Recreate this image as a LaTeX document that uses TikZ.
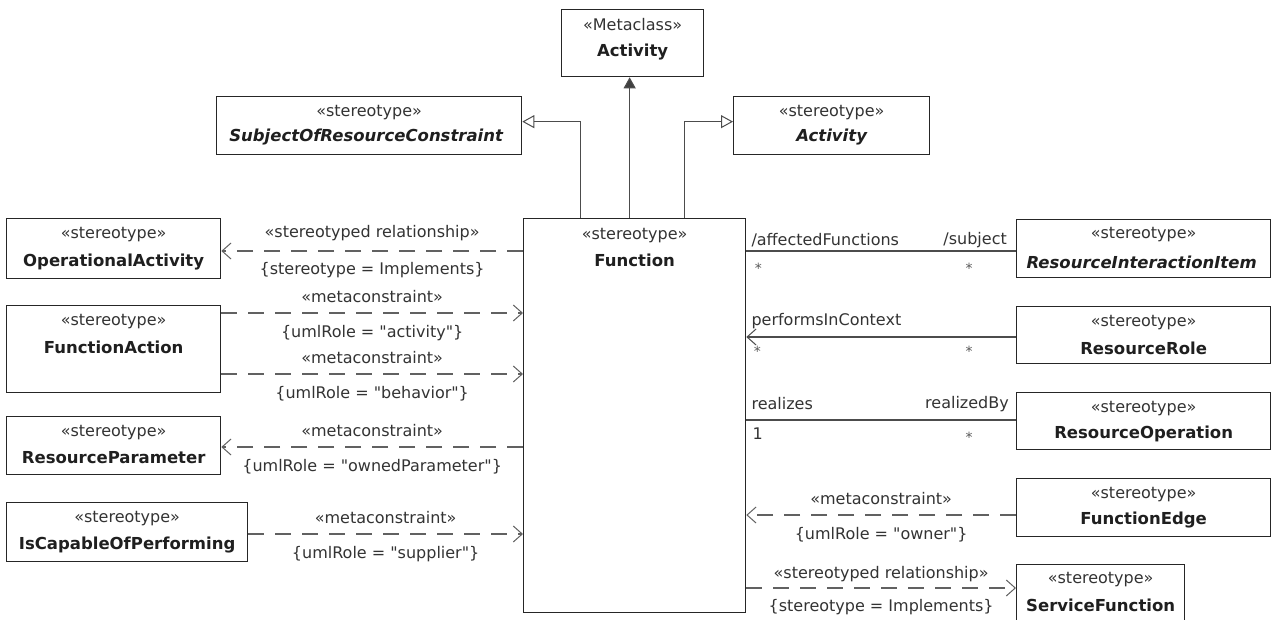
\documentclass[tikz,border=0pt]{standalone}
\usepackage{fontspec}
\setmainfont{DejaVu Sans}
\newfontfamily\qf{DejaVu Sans}
\newcommand{\dq}{{\qf"}}
\usetikzlibrary{arrows.meta,calc}
\begin{document}
\begin{tikzpicture}[x=1pt,y=-1pt,
  box/.style={draw=black!85, line width=1.3pt, anchor=north west, inner sep=0pt, fill=white},
  st/.style={font=\fontsize{16}{18}\selectfont, text=black!80, inner sep=0pt},
  nm/.style={font=\fontsize{16.5}{19}\selectfont\bfseries, text=black!88, inner sep=0pt},
  nmi/.style={font=\fontsize{16.5}{19}\selectfont\bfseries\itshape, text=black!88, inner sep=0pt},
  lbl/.style={font=\fontsize{16}{18}\selectfont, text=black!80, inner sep=0pt},
  ast/.style={font=\fontsize{14}{16}\selectfont, text=black!65, inner sep=0pt},
  dep/.style={draw=black!62, line width=1.1pt, dash pattern=on 16pt off 11pt},
  assoc/.style={draw=black!70, line width=1.1pt},
  barb/.style={-{Straight Barb[length=9pt,width=16pt,line width=1pt]}},
  gen/.style={draw=black!70, line width=1.1pt, -{Triangle[open,length=12pt,width=13pt,fill=white,line width=1pt]}},
  genf/.style={draw=black!70, line width=1.1pt, -{Triangle[length=11pt,width=12pt,fill=black!75]}}
]
\useasboundingbox (0,0) rectangle (1273,620);
\clip (0,0) rectangle (1273,620);
\fill[white] (0,0) rectangle (1273,620);

% boxes
\node[box, minimum width=142pt, minimum height=67pt] (meta) at (561,9) {};
\node[st] at ($(meta.north)+(0,16)$) {«Metaclass»};
\node[nm] at ($(meta.north)+(0,43)$) {Activity};

\node[box, minimum width=305pt, minimum height=58pt] (sorc) at (216,96) {};
\node[st] at ($(sorc.north)+(0,17)$) {«stereotype»};
\node[nmi] at ($(sorc.north)+(-3,41)$) {SubjectOfResourceConstraint};

\node[box, minimum width=196pt, minimum height=58pt] (sact) at (733,96) {};
\node[st] at ($(sact.north)+(0,17)$) {«stereotype»};
\node[nmi] at ($(sact.north)+(0,41)$) {Activity};

\node[box, minimum width=222pt, minimum height=394pt] (func) at (523,218) {};
\node[st] at ($(func.north)+(0,18)$) {«stereotype»};
\node[nm] at ($(func.north)+(0,42)$) {Function};

\node[box, minimum width=214pt, minimum height=60pt] (opact) at (6,218) {};
\node[st] at ($(opact.north)+(0,17)$) {«stereotype»};
\node[nm] at ($(opact.north)+(0,44)$) {OperationalActivity};

\node[box, minimum width=214pt, minimum height=87pt] (fact) at (6,305) {};
\node[st] at ($(fact.north)+(0,17)$) {«stereotype»};
\node[nm] at ($(fact.north)+(0,42)$) {FunctionAction};

\node[box, minimum width=214pt, minimum height=58pt] (rpar) at (6,416) {};
\node[st] at ($(rpar.north)+(0,17)$) {«stereotype»};
\node[nm] at ($(rpar.north)+(0,42)$) {ResourceParameter};

\node[box, minimum width=241pt, minimum height=59pt] (icop) at (6,502) {};
\node[st] at ($(icop.north)+(0,17)$) {«stereotype»};
\node[nm] at ($(icop.north)+(0,43)$) {IsCapableOfPerforming};

\node[box, minimum width=254pt, minimum height=58pt] (rii) at (1016,219) {};
\node[st] at ($(rii.north)+(0,16)$) {«stereotype»};
\node[nmi] at ($(rii.north)+(-2,43)$) {ResourceInteractionItem};

\node[box, minimum width=254pt, minimum height=57pt] (rrole) at (1016,306) {};
\node[st] at ($(rrole.north)+(0,17)$) {«stereotype»};
\node[nm] at ($(rrole.north)+(0,42)$) {ResourceRole};

\node[box, minimum width=254pt, minimum height=57pt] (rop) at (1016,392) {};
\node[st] at ($(rop.north)+(0,17)$) {«stereotype»};
\node[nm] at ($(rop.north)+(0,42)$) {ResourceOperation};

\node[box, minimum width=254pt, minimum height=58pt] (fedge) at (1016,478) {};
\node[st] at ($(fedge.north)+(0,17)$) {«stereotype»};
\node[nm] at ($(fedge.north)+(0,42)$) {FunctionEdge};

\node[box, minimum width=168pt, minimum height=60pt] (sfun) at (1016,564) {};
\node[st] at ($(sfun.north)+(0,16)$) {«stereotype»};
\node[nm] at ($(sfun.north)+(0,41)$) {ServiceFunction};

% generalisations
\draw[genf] ([xshift=-5pt]func.north) -- ([xshift=-3pt]meta.south);
\draw[gen] ([xshift=-54pt]func.north) |- ([yshift=4pt]sorc.east);
\draw[gen] ([xshift=50pt]func.north) |- ([yshift=4pt]sact.west);

% left dependencies
\draw[dep, barb] (func.west |- 0,251) -- (opact.east |- 0,251)
  node[lbl, midway, yshift=18pt] {«stereotyped relationship»}
  node[lbl, midway, yshift=-19pt] {\{stereotype = Implements\}};
\draw[dep, barb] (fact.east |- 0,313) -- (func.west |- 0,313)
  node[lbl, midway, yshift=16pt] {«metaconstraint»}
  node[lbl, midway, yshift=-20pt] {\{umlRole = \dq activity\dq\}};
\draw[dep, barb] (fact.east |- 0,374) -- (func.west |- 0,374)
  node[lbl, midway, yshift=16pt] {«metaconstraint»}
  node[lbl, midway, yshift=-20pt] {\{umlRole = \dq behavior\dq\}};
\draw[dep, barb] (func.west |- 0,447) -- (rpar.east |- 0,447)
  node[lbl, midway, yshift=16pt] {«metaconstraint»}
  node[lbl, midway, yshift=-20pt] {\{umlRole = \dq ownedParameter\dq\}};
\draw[dep, barb] (icop.east |- 0,534) -- (func.west |- 0,534)
  node[lbl, midway, yshift=16pt] {«metaconstraint»}
  node[lbl, midway, yshift=-20pt] {\{umlRole = \dq supplier\dq\}};

% right associations
\draw[assoc] (func.east |- 0,251) -- (rii.west |- 0,251);
\node[lbl, anchor=west] (a1) at ([xshift=5pt]func.east |- 0,240) {/affectedFunctions};
\node[lbl, anchor=east] (a2) at ([xshift=-9pt]rii.west |- 0,240) {/subject};
\node[ast] (a3) at ([xshift=12pt]func.east |- 0,268) {*};
\node[ast] (a4) at ([xshift=-47pt]rii.west |- 0,268) {*};

\draw[assoc, barb] (rrole.west |- 0,337) -- (func.east |- 0,337);
\node[lbl, anchor=west] (b1) at ([xshift=5pt]func.east |- 0,321) {performsInContext};
\node[ast] (b3) at ([xshift=11pt]func.east |- 0,351) {*};
\node[ast] (b4) at ([xshift=-47pt]rrole.west |- 0,351) {*};

\draw[assoc] (func.east |- 0,420) -- (rop.west |- 0,420);
\node[lbl, anchor=west] (c1) at ([xshift=5pt]func.east |- 0,404) {realizes};
\node[lbl, anchor=east] (c2) at ([xshift=-7pt]rop.west |- 0,404) {realizedBy};
\node[lbl, anchor=west] (c3) at ([xshift=6pt]func.east |- 0,434) {1};
\node[ast] (c4) at ([xshift=-47pt]rop.west |- 0,437) {*};

% right dependencies
\draw[dep, barb] (fedge.west |- 0,515) -- (func.east |- 0,515)
  node[lbl, midway, yshift=16pt] {«metaconstraint»}
  node[lbl, midway, yshift=-20pt] {\{umlRole = \dq owner\dq\}};
\draw[dep, barb] (func.east |- 0,588) -- (sfun.west |- 0,588)
  node[lbl, midway, yshift=14pt] {«stereotyped relationship»}
  node[lbl, midway, yshift=-19pt] {\{stereotype = Implements\}};
\end{tikzpicture}
\end{document}
